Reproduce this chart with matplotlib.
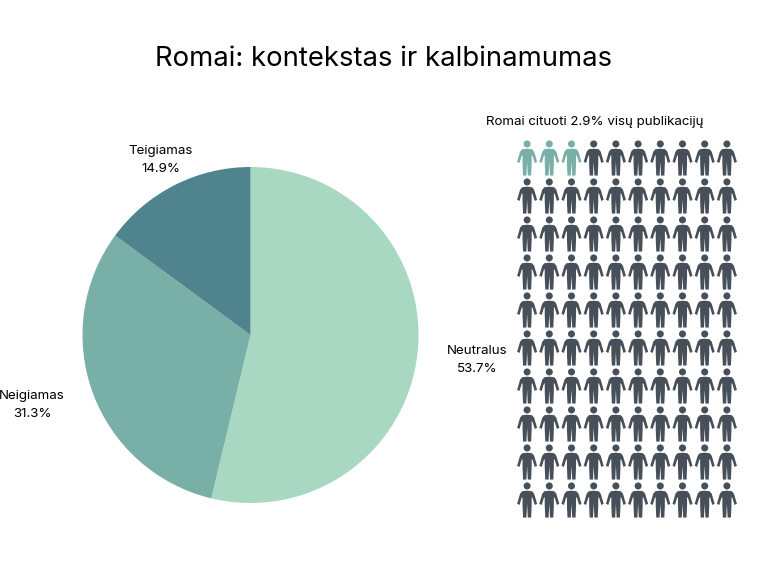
"""Romai: pie of context plus a 10x10 people waffle."""
import numpy as np
import matplotlib
matplotlib.use("Agg")
import matplotlib.pyplot as plt
from matplotlib.path import Path

plt.rcParams["font.family"] = ["Inter", "DejaVu Sans"]

W, H = 768, 576

TITLE = "Romai: kontekstas ir kalbinamumas"
WAFFLE_TITLE = "Romai cituoti 2.9% visų publikacijų"

categories = ["Neutralus", "Neigiamas", "Teigiamas"]
shares = [53.7, 31.3, 14.9]
pie_colors = ["#A8D8C1", "#78AFA7", "#4F848E"]
# label centres in pixels, top-left origin
label_xy = [(477, 360), (32, 405), (161, 160)]

n_rows, n_cols = 10, 10
n_highlight = 3
color_on = "#78AFA7"
color_off = "#474F59"


def px_axes(x0, y0, x1, y1):
    return fig.add_axes([x0 / W, 1 - y1 / H, (x1 - x0) / W, (y1 - y0) / H])


def person_marker():
    # half outline, mirrored; units are half the icon height
    right = np.array([(0.00, -0.22), (0.04, -1.00), (0.23, -1.00), (0.26, -0.30),
                      (0.26, 0.16), (0.31, 0.12), (0.43, -0.28), (0.57, -0.22),
                      (0.40, 0.36), (0.28, 0.50), (0.00, 0.53)])
    left = right[::-1] * [-1, 1]
    body = np.vstack([right, left[1:-1]])
    body = Path(np.vstack([body, body[0]]), closed=True)
    head = Path.circle((0, 0.80), 0.20)
    return Path.make_compound_path(body, head)


fig = plt.figure(figsize=(W / 100, H / 100), dpi=100)
fig.text(384 / W, 1 - 59.5 / H, TITLE, ha="center", va="center", fontsize=19.8,
         fontweight="normal", color="black")

# pie
ax = px_axes(82, 167, 419, 503)
ax.pie(shares, colors=pie_colors, startangle=90, counterclock=False, radius=1.0)
ax.set(xlim=(-1, 1), ylim=(-1, 1))
for cat, val, (x, y) in zip(categories, shares, label_xy):
    fig.text(x / W, 1 - y / H, f"{cat}\n{val}%", ha="center", va="center",
             fontsize=9.6, linespacing=1.75, color="black")

# waffle
fig.text(595 / W, 1 - 122.5 / H, WAFFLE_TITLE, ha="center", va="center", fontsize=9.6, color="black")
axw = px_axes(516, 139, 738, 519)
cols, rows = np.meshgrid(np.arange(n_cols), np.arange(n_rows))
order = rows.ravel() * n_cols + cols.ravel()
axw.scatter(cols.ravel(), rows.ravel(), marker=person_marker(), s=640, linewidths=0,
            c=[color_on if i < n_highlight else color_off for i in order])
axw.set_xlim(-0.5, n_cols - 0.5)
axw.set_ylim(n_rows - 0.5, -0.5)
axw.axis("off")

fig.savefig("out.png", dpi=100)
